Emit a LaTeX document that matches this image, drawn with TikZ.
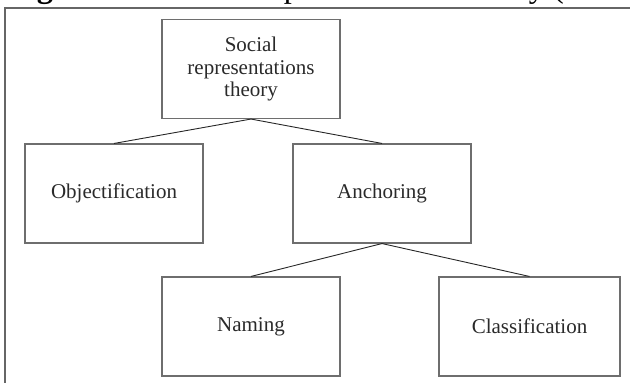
\documentclass[tikz,border=0pt]{standalone}
\usepackage{fontspec}
\setmainfont{Liberation Serif}
\definecolor{boxline}{HTML}{6E6E6E}
\definecolor{frameline}{HTML}{666666}
\definecolor{labeltext}{HTML}{2A2A2A}
\begin{document}
\begin{tikzpicture}[x=1pt,y=-1pt,
  concept/.style={draw=boxline, line width=1.1pt, fill=white,
    minimum width=178pt, minimum height=99pt, inner sep=0pt,
    align=center, text=labeltext,
    font=\fontsize{21}{22.5}\selectfont},
  branch/.style={draw=black!85, line width=0.9pt}]
  \useasboundingbox (0,0) rectangle (630,383);
  \clip (0,0) rectangle (630,383);

  % caption line sitting just above the figure frame
  \node[anchor=base west, inner sep=0pt, font=\fontsize{32.3}{34}\selectfont]
    (caption) at (8,-3) {\textbf{Figure 11.1} Social representations theory (Moscovici)};

  % figure frame
  \draw[frameline, line width=2pt] (5,400) -- (5,8) -- (640,8);

  % concept boxes
  \node[concept] (srt)   at (251,69)    {Social\\representations\\theory};
  \node[concept] (obj)   at (114,193.5) {Objectification};
  \node[concept] (anch)  at (382,193.5) {Anchoring};
  \node[concept] (name)  at (251,326.5) {Naming};
  \node[concept, minimum width=181pt] (class) at (529.5,326.5) {Classification};

  % connecting branches
  \draw[branch] (srt.south) -- (obj.north);
  \draw[branch] (srt.south) -- (anch.north);
  \draw[branch] (anch.south) -- (name.north);
  \draw[branch] (anch.south) -- (class.north);
\end{tikzpicture}
\end{document}
